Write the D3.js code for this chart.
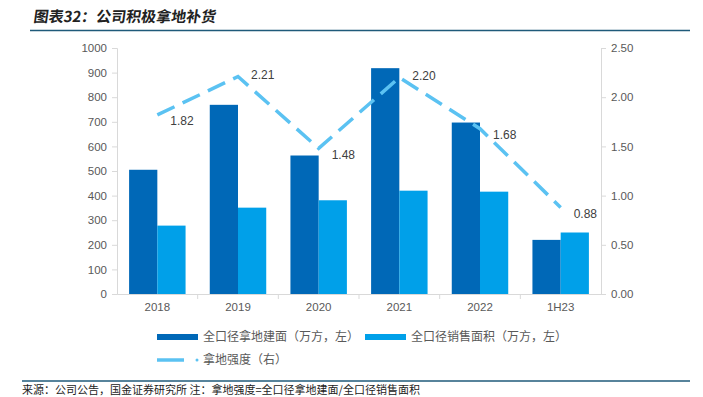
<!DOCTYPE html>
<html>
<head>
<meta charset="utf-8">
<script src="https://cdn.jsdelivr.net/npm/d3@7"></script>
<style>
body { margin: 0; background: #fff; }
text { font-family: "Liberation Sans", Arial, "Noto Sans CJK SC", sans-serif; }
</style>
</head>
<body>
<script>
var categories = ["2018", "2019", "2020", "2021", "2022", "1H23"];
var landArea = [505, 769, 563, 918, 697, 220];
var salesArea = [278, 351, 381, 420, 416, 250];
var intensity = [1.82, 2.21, 1.48, 2.20, 1.68, 0.88];
var leftTicks = [0, 100, 200, 300, 400, 500, 600, 700, 800, 900, 1000];
var rightTicks = [0, 0.5, 1.0, 1.5, 2.0, 2.5];

var W = 703, H = 397;
var margin = {top: 48, right: 102, bottom: 103, left: 117},
    width = W - margin.left - margin.right,
    height = H - margin.top - margin.bottom;

var darkBlue = "#0068b7", lightBlue = "#00a0e9", lineBlue = "#5bc2f2", grey = "#595959", axisGrey = "#d9d9d9";
var cjk = "'Noto Sans CJK SC', sans-serif";

var svg = d3.select("body").append("svg")
    .attr("width", W)
    .attr("height", H);

// title and rules
svg.append("text")
    .attr("x", 33).attr("y", 22)
    .style("font-family", cjk)
    .style("font-size", "15px")
    .style("font-weight", "bold")
    .attr("transform", "skewX(-8) translate(3,0)")
    .attr("fill", "#222")
    .text("图表32：公司积极拿地补货");
svg.append("line").attr("x1", 30).attr("x2", 690).attr("y1", 30.5).attr("y2", 30.5)
    .attr("stroke", "#1f5a7a").attr("stroke-width", 1.5);
svg.append("line").attr("x1", 22).attr("x2", 690).attr("y1", 381).attr("y2", 381)
    .attr("stroke", "#1f5a7a").attr("stroke-width", 1.5);
svg.append("text")
    .attr("x", 22).attr("y", 394)
    .style("font-family", cjk)
    .style("font-size", "11px")
    .attr("fill", "#222")
    .text("来源：公司公告，国金证券研究所 注：拿地强度=全口径拿地建面/全口径销售面积");

var g = svg.append("g").attr("transform", "translate(" + margin.left + "," + margin.top + ")");

var x = d3.scaleBand().domain(categories).range([0, width]).paddingInner(0.3).paddingOuter(0.15);
var x1 = d3.scaleBand().domain(["land", "sales"]).range([0, x.bandwidth()]);
var yL = d3.scaleLinear().domain([0, 1000]).range([height, 0]);
var yR = d3.scaleLinear().domain([0, 2.5]).range([height, 0]);

// left axis
var axL = g.append("g").call(d3.axisLeft(yL).tickValues(leftTicks).tickFormat(d3.format("d")).tickSize(5).tickPadding(5));
axL.select(".domain").attr("stroke", axisGrey);
axL.selectAll(".tick line").attr("stroke", axisGrey);
axL.selectAll(".tick text").attr("fill", grey).style("font-size", "11.5px");

// right axis
var axR = g.append("g").attr("transform", "translate(" + width + ",0)")
    .call(d3.axisRight(yR).tickValues(rightTicks).tickFormat(d3.format(".2f")).tickSize(5).tickPadding(5));
axR.select(".domain").attr("stroke", axisGrey);
axR.selectAll(".tick line").attr("stroke", axisGrey);
axR.selectAll(".tick text").attr("fill", grey).style("font-size", "11.5px");

// bars
var grp = g.selectAll(".grp").data(categories).enter().append("g")
    .attr("transform", function(d) { return "translate(" + x(d) + ",0)"; });
grp.append("rect")
    .attr("x", x1("land")).attr("width", x1.bandwidth())
    .attr("y", function(d, i) { return yL(landArea[i]); })
    .attr("height", function(d, i) { return height - yL(landArea[i]); })
    .attr("fill", darkBlue);
grp.append("rect")
    .attr("x", x1("sales")).attr("width", x1.bandwidth())
    .attr("y", function(d, i) { return yL(salesArea[i]); })
    .attr("height", function(d, i) { return height - yL(salesArea[i]); })
    .attr("fill", lightBlue);

// x axis
var step = width / categories.length;
var axX = g.append("g").attr("transform", "translate(0," + height + ")")
    .call(d3.axisBottom(x).tickSize(0).tickPadding(9));
axX.select(".domain").attr("stroke", axisGrey);
axX.selectAll(".tick text").attr("fill", grey).style("font-size", "11.5px");
g.selectAll(".xtick").data(d3.range(1, categories.length)).enter().append("line")
    .attr("x1", function(d) { return d * step; }).attr("x2", function(d) { return d * step; })
    .attr("y1", height).attr("y2", height + 5)
    .attr("stroke", axisGrey);

// line
var cx = function(i) { return x(categories[i]) + x.bandwidth() / 2; };
var line = d3.line()
    .x(function(d, i) { return cx(i); })
    .y(function(d) { return yR(d); });
g.append("path").datum(intensity)
    .attr("d", line)
    .attr("fill", "none")
    .attr("stroke", lineBlue)
    .attr("stroke-width", 3.5)
    .attr("stroke-dasharray", "19,9");
g.selectAll(".lbl").data(intensity).enter().append("text")
    .attr("x", function(d, i) { return cx(i) + 13; })
    .attr("y", function(d, i) { return yR(d) + (i === 1 || i === 3 ? -2 : 6); })
    .attr("dy", "0.35em")
    .attr("fill", "#404040")
    .style("font-size", "12px")
    .text(function(d) { return d3.format(".2f")(d); });

// legend
var lg = svg.append("g").style("font-family", cjk).style("font-size", "12px");
lg.append("rect").attr("x", 157).attr("y", 334).attr("width", 41).attr("height", 6).attr("fill", darkBlue);
lg.append("text").attr("x", 203).attr("y", 337).attr("dy", "0.35em").attr("fill", grey).text("全口径拿地建面（万方，左）");
lg.append("rect").attr("x", 365).attr("y", 334).attr("width", 41).attr("height", 6).attr("fill", lightBlue);
lg.append("text").attr("x", 411).attr("y", 337).attr("dy", "0.35em").attr("fill", grey).text("全口径销售面积（万方，左）");
lg.append("line").attr("x1", 157).attr("x2", 184).attr("y1", 360).attr("y2", 360)
    .attr("stroke", lineBlue).attr("stroke-width", 3.5);
lg.append("circle").attr("cx", 197).attr("cy", 360).attr("r", 1.5).attr("fill", lineBlue);
lg.append("text").attr("x", 203).attr("y", 360).attr("dy", "0.35em").attr("fill", grey).text("拿地强度（右）");
</script>
</body>
</html>
